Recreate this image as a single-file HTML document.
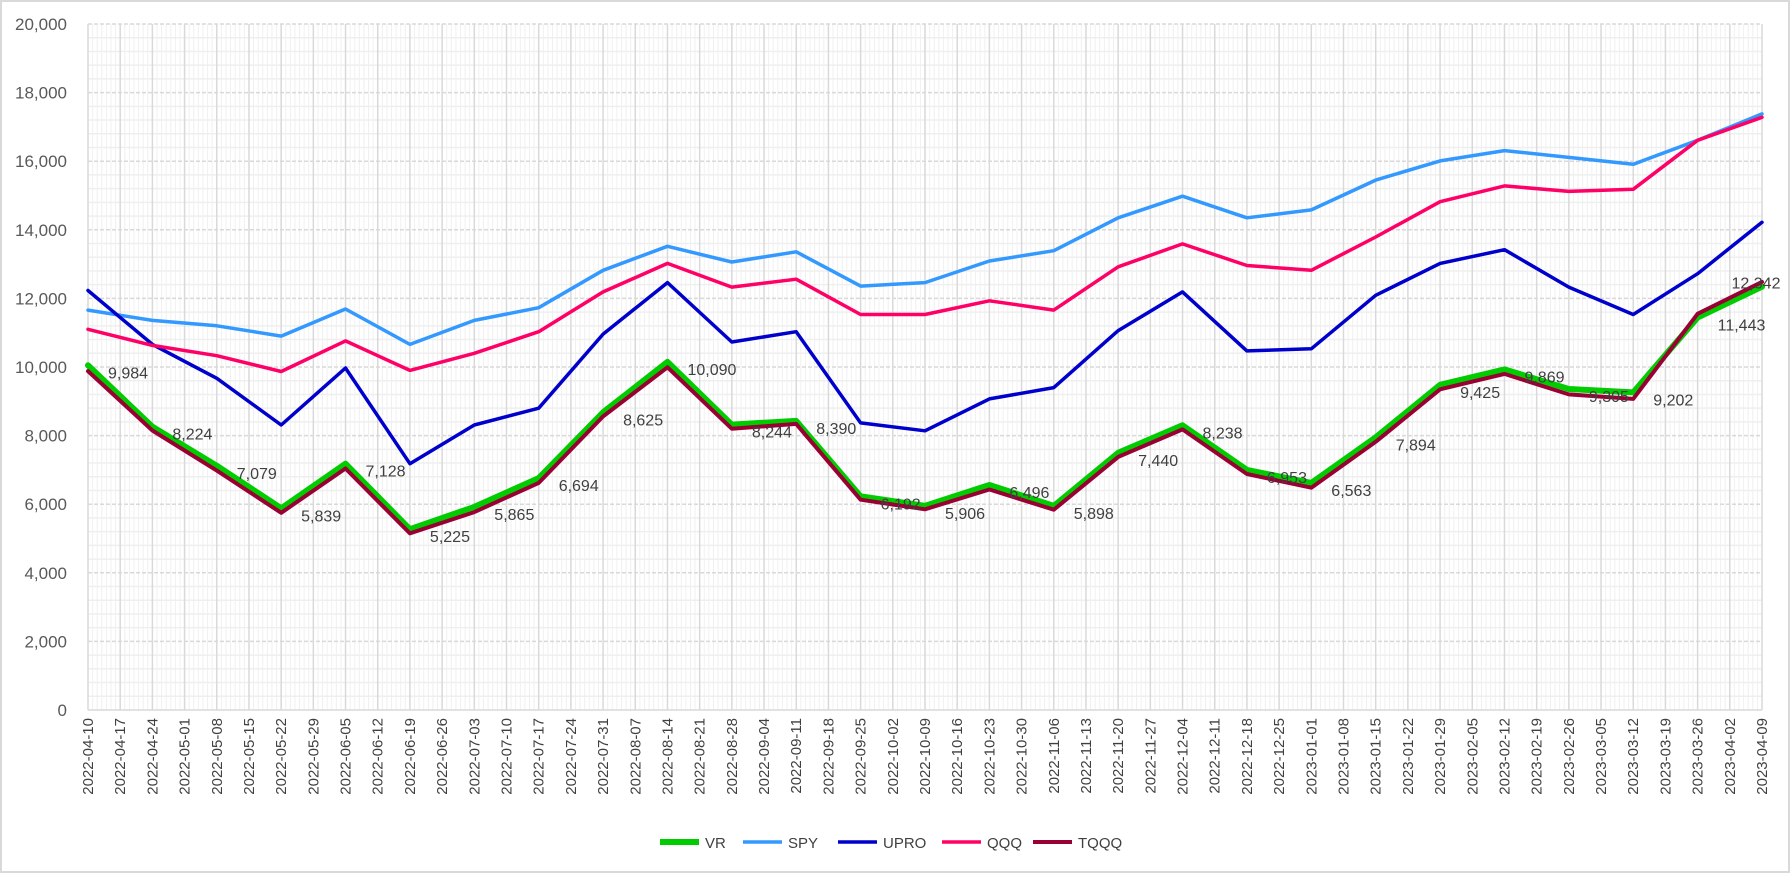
<!DOCTYPE html>
<html><head><meta charset="utf-8">
<style>
html,body{margin:0;padding:0;background:#fff;}
svg{display:block;font-family:"Liberation Sans",sans-serif;}
</style></head>
<body>
<svg id="chart" width="1790" height="873" viewBox="0 0 1790 873" xmlns="http://www.w3.org/2000/svg">
<rect x="1" y="1" width="1788" height="871" fill="#fff" stroke="#d9d9d9" stroke-width="2"/>
<g id="grid"></g>
<g id="axes"></g>
<g id="series"></g>
<g id="labels"></g>
<g id="legend"></g>
</svg>
<script>
const weekLabels = ["2022-04-10","2022-04-17","2022-04-24","2022-05-01","2022-05-08","2022-05-15","2022-05-22","2022-05-29","2022-06-05","2022-06-12","2022-06-19","2022-06-26","2022-07-03","2022-07-10","2022-07-17","2022-07-24","2022-07-31","2022-08-07","2022-08-14","2022-08-21","2022-08-28","2022-09-04","2022-09-11","2022-09-18","2022-09-25","2022-10-02","2022-10-09","2022-10-16","2022-10-23","2022-10-30","2022-11-06","2022-11-13","2022-11-20","2022-11-27","2022-12-04","2022-12-11","2022-12-18","2022-12-25","2023-01-01","2023-01-08","2023-01-15","2023-01-22","2023-01-29","2023-02-05","2023-02-12","2023-02-19","2023-02-26","2023-03-05","2023-03-12","2023-03-19","2023-03-26","2023-04-02","2023-04-09"];
const yTicks = [0,2000,4000,6000,8000,10000,12000,14000,16000,18000,20000];
const vrValues = [10050,8260,7120,5880,7180,5270,5920,6760,8680,10150,8320,8430,6230,5950,6560,5950,7500,8300,7000,6620,7950,9480,9930,9360,9260,11443,12342];
const spyValues = [11660,11360,11200,10900,11690,10660,11360,11730,12820,13520,13060,13360,12360,12460,13090,13390,14350,14980,14350,14580,15450,16010,16310,16110,15910,16610,17380];
const uproValues = [12230,10660,9670,8310,9970,7180,8310,8800,10960,12460,10730,11030,8370,8140,9070,9400,11060,12190,10470,10530,12090,13020,13420,12330,11530,12720,14220];
const qqqValues = [11100,10630,10330,9870,10760,9900,10400,11030,12190,13020,12330,12560,11530,11530,11930,11660,12920,13590,12960,12820,13790,14820,15280,15120,15180,16610,17280];
const tqqqValues = [9880,8150,6980,5750,7040,5150,5770,6620,8560,9990,8200,8340,6130,5850,6430,5840,7380,8180,6880,6480,7820,9350,9800,9200,9070,11550,12480];
const vrLabels = ["9,984","8,224","7,079","5,839","7,128","5,225","5,865","6,694","8,625","10,090","8,244","8,390","6,192","5,906","6,496","5,898","7,440","8,238","6,953","6,563","7,894","9,425","9,869","9,305","9,202","11,443","12,342"];

const NS="http://www.w3.org/2000/svg";
const L=88, R=1762, T=24, B=710, YMAX=20000;
const xWeek = i => L + i*(R-L)/(weekLabels.length-1);
const xPt = i => xWeek(i*2);
const yv = v => B - v/YMAX*(B-T);
function mk(tag, attrs, parent){const e=document.createElementNS(NS,tag);for(const k in attrs)e.setAttribute(k,attrs[k]);parent.appendChild(e);return e;}
const grid=document.getElementById('grid'), axes=document.getElementById('axes'), series=document.getElementById('series'), labels=document.getElementById('labels'), legend=document.getElementById('legend');

for(let d=0; d<=(weekLabels.length-1)*7; d++){
  if(d%7===0) continue;
  const x=L+d*(R-L)/((weekLabels.length-1)*7);
  const ln=mk('line',{x1:x,x2:x,y1:T,y2:B,stroke:'#f0f0f0','stroke-width':1},grid);
  
  
}
for(let v=400; v<YMAX; v+=400){
  if(v%2000===0) continue;
  const ln=mk('line',{x1:L,x2:R,y1:yv(v),y2:yv(v),stroke:'#efefef','stroke-width':1.5},grid);
  
  
}
weekLabels.forEach((w,i)=>{
  const ln=mk('line',{x1:xWeek(i),x2:xWeek(i),y1:T,y2:B,stroke:'#d9d9d9','stroke-width':1.5},grid);
  
  
  const t=mk('text',{x:0,y:0,'font-size':15,fill:'#404040','text-anchor':'end',transform:`translate(${xWeek(i)+5},${B+8}) rotate(-90)`},axes);
  t.textContent=w;
  
  
});
yTicks.forEach(v=>{
  const ln=mk('line',{x1:L,x2:R,y1:yv(v),y2:yv(v),stroke:'#d9d9d9','stroke-width':1.5,'stroke-dasharray':v===0?'':'4,2'},grid);
  
  
  const t=mk('text',{x:67,y:yv(v)+6,'font-size':17,fill:'#595959','text-anchor':'end'},axes);
  t.textContent=v.toLocaleString('en-US');
  
  
});

const defs=[
 {name:'SPY',vals:spyValues,color:'#3399ff',w:3.5},
 {name:'UPRO',vals:uproValues,color:'#0000cc',w:3.5},
 {name:'QQQ',vals:qqqValues,color:'#ff0066',w:3.5},
 {name:'VR',vals:vrValues,color:'#00cc00',w:6},
 {name:'TQQQ',vals:tqqqValues,color:'#990033',w:4}
];
defs.forEach(s=>{
  const pts=s.vals.map((v,i)=>xPt(i).toFixed(1)+','+yv(v).toFixed(1)).join(' ');
  const p=mk('polyline',{points:pts,fill:'none',stroke:s.color,'stroke-width':s.w,'stroke-linejoin':'round','stroke-linecap':'round'},series);
  
  
});
vrLabels.forEach((lab,i)=>{
  const last = i===vrLabels.length-1;
  const attrs = last ? {x:xPt(i)-6,y:yv(vrValues[i])+2,'font-size':16,fill:'#404040','text-anchor':'middle'}
                     : {x:xPt(i)+20,y:yv(vrValues[i])+13,'font-size':16,fill:'#404040'};
  const t=mk('text',attrs,labels);
  t.textContent=lab;
  
  
});
const leg=[['VR','#00cc00',660,6],['SPY','#3399ff',743,3.5],['UPRO','#0000cc',838,3.5],['QQQ','#ff0066',942,3.5],['TQQQ','#990033',1033,4]];
leg.forEach(([n,c,x,w])=>{
  const g=mk('g',{},legend);
  
  
  mk('line',{x1:x,x2:x+39,y1:842,y2:842,stroke:c,'stroke-width':w},g);
  const t=mk('text',{x:x+45,y:848,'font-size':15,fill:'#404040'},g);
  t.textContent=n;
});
</script>
</body></html>
